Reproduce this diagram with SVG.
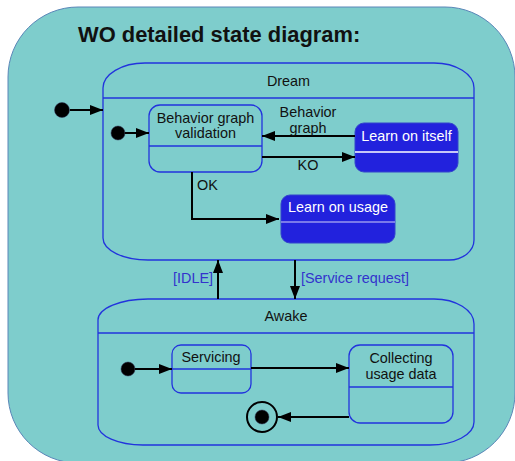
<svg xmlns="http://www.w3.org/2000/svg" width="515" height="461" viewBox="0 0 515 461">
<style>
text{font-family:"Liberation Sans",Arial,sans-serif;font-size:14.4px;fill:#111;}
.title{font-size:21.9px;font-weight:bold;}
.ctr{text-anchor:middle;}
.wt{fill:#ffffff;}
.guard{fill:#3333cc;}
.comp{fill:none;stroke:#2233dd;stroke-width:1.3;}
.st{fill:none;stroke:#2233dd;stroke-width:1.3;}
.ast{fill:#2222dd;stroke:#3344cc;stroke-width:1;}
.edge{fill:none;stroke:#000;stroke-width:2;}
</style>
<defs>
<marker id="arr" markerUnits="userSpaceOnUse" markerWidth="14" markerHeight="12" refX="13" refY="5" orient="auto">
<path d="M0,0 L13,5 L0,10 Z" fill="#000"/>
</marker>
</defs>
<rect x="8" y="7" width="507" height="456" rx="70" ry="70" fill="#7ecdcc" stroke="#5b86b8" stroke-width="1"/>
<text class="title" x="78" y="42">WO detailed state diagram:</text>

<g id="dream">
<path class="comp" d="M103,88 A42,25 0 0 1 145,63 L434,63 A40,25 0 0 1 474,88 L474,240 A25,20 0 0 1 449,260 L148,260 A45,22 0 0 1 103,238 Z"/>
<line class="comp" x1="103" y1="98" x2="474" y2="98"/>
<text class="ctr" x="288.5" y="86">Dream</text>
</g>

<g id="dream-init">
<circle cx="62" cy="110" r="7.5" fill="#000" stroke="#335" stroke-width="0.5"/>
</g>

<g id="bgv">
<rect class="st" x="149" y="105" width="113" height="67" rx="11"/>
<line class="st" x1="149" y1="146" x2="262" y2="146"/>
<text class="ctr" x="205.5" y="123">Behavior graph</text>
<text class="ctr" x="205.5" y="138">validation</text>
</g>

<g id="inner-init">
<circle cx="118" cy="133" r="7" fill="#000" stroke="#335" stroke-width="0.5"/>
</g>

<g id="learn-itself">
<rect class="ast" x="355" y="123" width="103" height="49" rx="9"/>
<line x1="355" y1="152" x2="458" y2="152" stroke="#ffffff" stroke-width="1.5"/>
<text class="ctr wt" x="406.5" y="141">Learn on itself</text>
</g>

<g id="learn-usage">
<rect class="ast" x="281" y="195" width="114" height="48" rx="9"/>
<line x1="281" y1="222" x2="395" y2="222" stroke="#9999ee" stroke-width="1.5"/>
<text class="ctr wt" x="338" y="212">Learn on usage</text>
</g>

<g id="awake">
<path class="comp" d="M98,320 A50,21 0 0 1 148,299 L434,299 A40,25 0 0 1 474,324 L474,422 A44,23 0 0 1 430,445 L143,445 A45,20 0 0 1 98,425 Z"/>
<line class="comp" x1="98" y1="333" x2="474" y2="333"/>
<text class="ctr" x="286" y="321">Awake</text>
</g>

<g id="servicing">
<rect class="st" x="172" y="345" width="79" height="48" rx="9"/>
<line class="st" x1="172" y1="369" x2="251" y2="369"/>
<text class="ctr" x="211" y="362">Servicing</text>
</g>

<g id="awake-init">
<circle cx="128" cy="369" r="7" fill="#000" stroke="#335" stroke-width="0.5"/>
</g>

<g id="collecting">
<rect class="st" x="349" y="345" width="104" height="78" rx="11"/>
<line class="st" x1="349" y1="387" x2="453" y2="387"/>
<text class="ctr" x="401" y="363">Collecting</text>
<text class="ctr" x="401" y="379">usage data</text>
</g>

<g id="final">
<circle cx="262" cy="417" r="15" fill="none" stroke="#000" stroke-width="2"/>
<circle cx="262" cy="417" r="7" fill="#000" stroke="#335" stroke-width="0.5"/>
</g>

<g id="connectors">
<line class="edge" x1="70" y1="110" x2="103" y2="110" marker-end="url(#arr)"/>
<line class="edge" x1="125" y1="133" x2="149" y2="133" marker-end="url(#arr)"/>
<line class="edge" x1="355" y1="136" x2="262" y2="136" marker-end="url(#arr)"/>
<line class="edge" x1="262" y1="157" x2="355" y2="157" marker-end="url(#arr)"/>
<polyline class="edge" points="192,172 192,219 279,219" marker-end="url(#arr)"/>
<line class="edge" x1="218" y1="299" x2="218" y2="260" marker-end="url(#arr)"/>
<line class="edge" x1="295" y1="260" x2="295" y2="299" marker-end="url(#arr)"/>
<line class="edge" x1="135" y1="369" x2="172" y2="369" marker-end="url(#arr)"/>
<line class="edge" x1="251" y1="368" x2="349" y2="368" marker-end="url(#arr)"/>
<line class="edge" x1="349" y1="417" x2="278" y2="417" marker-end="url(#arr)"/>
<text class="ctr" x="308" y="117">Behavior</text>
<text class="ctr" x="308" y="133">graph</text>
<text class="ctr" x="308" y="170">KO</text>
<text x="197" y="190">OK</text>
<text class="guard" x="173" y="283">[IDLE]</text>
<text class="guard" x="301" y="283">[Service request]</text>
</g>
</svg>
